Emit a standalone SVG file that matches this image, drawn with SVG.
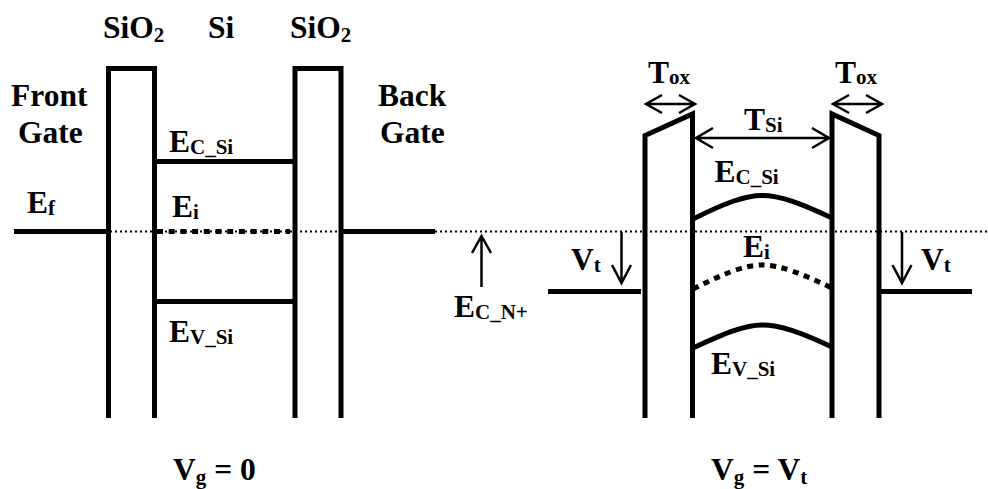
<svg xmlns="http://www.w3.org/2000/svg" width="988" height="489" viewBox="0 0 988 489">
<style>
text{font-family:"Liberation Serif","Times New Roman",serif;font-weight:bold;font-size:31.500px;fill:#000}
tspan.s{font-size:21px}
.b{fill:none;stroke:#000;stroke-width:5}
.t{fill:none;stroke:#000;stroke-width:2.500}
.d{fill:none;stroke:#000;stroke-width:2;stroke-dasharray:2 3}
.h{fill:none;stroke:#000;stroke-width:5;stroke-dasharray:6 5.700}
</style>
<rect width="988" height="489" fill="#fff"/>
<g id="connectors">
<path class="d" d="M110 231.500H988"/>
<path class="t" d="M481.500 287V236M472 253L481.500 236L491 253"/>
<path class="t" d="M621.500 232V283M612 265L621.500 283L631 265"/>
<path class="t" d="M902 232V283M892.500 265L902 283L911.500 265"/>
<path class="t" d="M646 104H695M662 95L646 104L662 113M679 95L695 104L679 113"/>
<path class="t" d="M833 104H882M849 95L833 104L849 113M866 95L882 104L866 113"/>
<path class="t" d="M696 138H829M713 128L696 138L713 148M812 128L829 138L812 148"/>
</g>
<g id="left-barrier-1"><path class="b" d="M108.500 418V68.500H154.500V418"/></g>
<g id="left-barrier-2"><path class="b" d="M295 418V68.500H341V418"/></g>
<g id="left-levels">
<path class="b" d="M14 231.500H106"/>
<path class="b" d="M343 231.500H435"/>
<path class="b" d="M157 161.500H293"/>
<path class="b" d="M157 301.500H293"/>
<path class="h" d="M157 231.500H290"/>
</g>
<g id="right-barrier-1"><path class="b" d="M645 418V135.500L692.500 114V418"/></g>
<g id="right-barrier-2"><path class="b" d="M832 418V114L879 135.500V418"/></g>
<g id="right-levels">
<path class="b" d="M548 291.500H641"/>
<path class="b" d="M881 291.500H972"/>
<path class="b" d="M693 219C725 203 745 195.500 762 195.500C780 195.500 800 203 832 218"/>
<path class="h" d="M693 289C725 273 745 265 762 265C780 265 800 273 832 288"/>
<path class="b" d="M693 348C725 333 745 325 762 325C780 325 800 332 832 347"/>
</g>
<g id="labels">
<text x="103" y="38">SiO<tspan class="s" dy="4">2</tspan></text>
<text x="208" y="38">Si</text>
<text x="290" y="38">SiO<tspan class="s" dy="4">2</tspan></text>
<text x="11" y="106">Front</text>
<text x="18" y="143">Gate</text>
<text x="378" y="106">Back</text>
<text x="380" y="143">Gate</text>
<text x="169" y="152">E<tspan class="s" dy="2">C_Si</tspan></text>
<text x="27" y="213">E<tspan class="s" dy="2">f</tspan></text>
<text x="172" y="217">E<tspan class="s" dy="2">i</tspan></text>
<text x="169" y="342">E<tspan class="s" dy="2">V_Si</tspan></text>
<text x="173" y="480">V<tspan class="s" dy="4">g</tspan><tspan dy="-4"> = 0</tspan></text>
<text x="648" y="83">T<tspan class="s" dy="1">ox</tspan></text>
<text x="835" y="83">T<tspan class="s" dy="1">ox</tspan></text>
<text x="744" y="130">T<tspan class="s" dy="2">Si</tspan></text>
<text x="714.500" y="182">E<tspan class="s" dy="2">C_Si</tspan></text>
<text x="743" y="257">E<tspan class="s" dy="2">i</tspan></text>
<text x="711" y="374">E<tspan class="s" dy="2">V_Si</tspan></text>
<text x="571" y="270">V<tspan class="s" dy="2">t</tspan></text>
<text x="921" y="270">V<tspan class="s" dy="2">t</tspan></text>
<text x="454" y="317">E<tspan class="s" dy="2">C_N+</tspan></text>
<text x="711" y="480">V<tspan class="s" dy="4">g</tspan><tspan dy="-4"> = V</tspan><tspan class="s" dy="4">t</tspan></text>
</g>
</svg>
